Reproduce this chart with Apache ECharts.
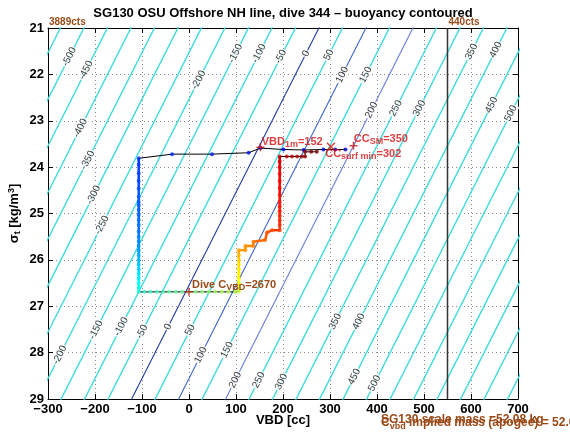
<!DOCTYPE html>
<html><head><meta charset="utf-8">
<script src="https://cdn.jsdelivr.net/npm/echarts@6/dist/echarts.min.js"></script>
<style>html,body{margin:0;padding:0;background:#fff}#c{width:570px;height:439px}</style>
</head><body><div id="c"></div>
<script>
// ================= DATA =================
const titleText = 'SG130 OSU Offshore NH line, dive 344 \u2013 buoyancy contoured';
// buoyancy contour levels [g]
const contourLevels = [-600,-550,-500,-450,-400,-350,-300,-250,-200,-150,-100,-50,0,50,100,150,200,250,300,350,400,450,500,550,600,650,700,750,800];
const blueLevels = [0, 100, 200];
// buoyancy model: B = VBD + offset + slope*(sigma - 29)
const buoyOffset = 122;
const buoySlope = 49.8;
// contour label positions (level, sigma_t where the label sits)
const topLabelLevels = [-500,-450,-400,-350,-300,-250,-200,-150,-100,-50,0,50,100,150,200,250,300,350,400,450,500];
const topLabelSigma  = [21.62,21.91,23.16,23.85,24.60,25.25,22.12,21.55,21.55,21.62,21.55,21.58,22.01,22.01,22.77,22.73,22.73,21.51,21.47,22.66,22.84];
const botLabelLevels = [-200,-150,-100,-50,0,50,100,150,200,250,300,350,400,450,500];
const botLabelSigma  = [28.05,27.51,27.44,27.55,27.44,27.51,28.05,27.94,28.59,28.59,28.63,27.33,27.33,28.52,28.66];

// dive path segments: [VBD cc, sigma_t, time fraction]
const surfaceBleed = [[333,23.62,0.08],[311,23.62,0.09],[286,23.62,0.10],[244,23.63,0.11],[201,23.62,0.12],[152,23.59,0.13],[127,23.69,0.14],[49,23.72,0.15],[-36,23.72,0.16],[-107,23.81,0.17]];
const descent = [[-107,23.81,0.17],[-107,23.95,0.18],[-107,24.13,0.19],[-107,24.30,0.195],[-107,24.46,0.20],[-107,24.64,0.21],[-107,24.75,0.213],[-107,24.82,0.216],[-107,24.92,0.22],[-107,25.03,0.225],[-107,25.14,0.23],[-107,25.25,0.235],[-107,25.39,0.24],[-107,25.50,0.25],[-107,25.60,0.26],[-107,25.70,0.27],[-107,25.80,0.28],[-107,25.90,0.29],[-107,26.00,0.305],[-107,26.10,0.32],[-107,26.20,0.335],[-107,26.30,0.35],[-107,26.40,0.36],[-107,26.50,0.375],[-107,26.60,0.39],[-107,26.69,0.41]];
const apogeePump = [[-107,26.69,0.41],[-95,26.69,0.42],[-82,26.69,0.43],[-68,26.69,0.44],[-55,26.69,0.45],[-42,26.69,0.46],[-28,26.69,0.47],[-15,26.69,0.48],[0,26.69,0.49],[14,26.69,0.50],[28,26.69,0.51],[42,26.69,0.52],[56,26.69,0.53],[70,26.69,0.54],[84,26.69,0.55],[98,26.69,0.56],[106,26.68,0.57]];
const climbBottom = [[106,26.68,0.57],[106,26.60,0.59],[106,26.50,0.61],[106,26.40,0.62],[106,26.30,0.63],[106,26.20,0.64],[106,26.10,0.65],[106,26.00,0.67],[106,25.90,0.69],[106,25.79,0.71]];
const staircase = [[106,25.79,0.71],[120,25.79,0.72],[120,25.70,0.73],[137,25.70,0.74],[137,25.61,0.75],[162,25.57,0.77],[166,25.41,0.79],[177,25.36,0.80],[193,25.36,0.82]];
const climbTop = [[193,25.36,0.82],[193,25.25,0.83],[193,25.15,0.835],[193,25.05,0.84],[193,24.95,0.845],[193,24.85,0.85],[193,24.75,0.855],[193,24.60,0.86],[193,24.45,0.87],[193,24.30,0.88],[193,24.15,0.89],[193,24.00,0.90],[193,23.88,0.91],[193,23.77,0.92]];
const surfacePump = [[193,23.77,0.92],[208,23.77,0.93],[219,23.77,0.94],[230,23.77,0.95],[240,23.77,0.96],[247,23.77,0.97],[247,23.67,0.98],[260,23.67,0.99],[272,23.67,1.0]];

// annotated markers
const vbd1m = [152, 23.57];      // VBD_1m = 152
const ccSM = [350, 23.54];       // CC_SM = 350
const ccSurfMin = [302, 23.56];  // CC_surf min = 302
const diveCvbd = [0, 26.69];     // Dive C_VBD = 2670
const vbdLimit = 550;            // vertical line (440 cts)
const countsLeft = [-300, 21, '3889cts'];
const countsRight = [550, 21, '440cts'];
const massScale = 'SG130 scale mass =52.08 kg';
const massImplied = ' implied mass (apogee) = 52.086';

// ================= CHART =================
const FONT = "'Liberation Sans', Arial, Helvetica, sans-serif";
const RED = '#d01010';
const BROWN = '#9a4a18';
function jet(t){
  const c = v => Math.max(0, Math.min(1, v));
  const r = c(1.5 - Math.abs(4*t - 3)), g = c(1.5 - Math.abs(4*t - 2)), b = c(1.5 - Math.abs(4*t - 1));
  return 'rgb(' + Math.round(r*255) + ',' + Math.round(g*255) + ',' + Math.round(b*255) + ')';
}
const contourVbd = (L, s) => L - buoyOffset - buoySlope*(s - 29);
const blueColors = {0:'#1f3c9e', 100:'#3e66c9', 200:'#6a7bdc'};

const series = [];
contourLevels.forEach(L => {
  const blue = blueLevels.includes(L);
  series.push({type:'line', silent:true, symbol:'none', clip:true, z:2,
    data:[[contourVbd(L,20.5),20.5],[contourVbd(L,29.5),29.5]],
    lineStyle:{color: blue ? blueColors[L] : '#3edcdc', width: blue ? 1.1 : 1.4}});
});
const labelData = [];
topLabelLevels.forEach((L,i)=>labelData.push([contourVbd(L, topLabelSigma[i]), topLabelSigma[i], L]));
botLabelLevels.forEach((L,i)=>labelData.push([contourVbd(L, botLabelSigma[i]), botLabelSigma[i], L]));
series.push({type:'scatter', silent:true, z:3, symbolSize:1, itemStyle:{color:'rgba(0,0,0,0)'}, data:labelData,
  label:{show:true, position:'inside', rotate:63, formatter:p=>String(p.data[2]), color:'#000', fontSize:10, fontFamily:FONT,
    backgroundColor:'#fff', padding:[0,1]}});
// vertical VBD limit line
series.push({type:'line', silent:true, symbol:'none', z:4, data:[[vbdLimit,21],[vbdLimit,29]], lineStyle:{color:'#333', width:1.5}});

const segments = [surfaceBleed, descent, apogeePump, climbBottom, staircase, climbTop, surfacePump];
const coloredSegs = [descent, climbBottom, staircase, climbTop];
const allPts = [];
segments.forEach((seg, k) => seg.forEach((p, j) => { if (k === 0 || j > 0) allPts.push(p); }));
// black path line (underneath)
series.push({type:'line', silent:true, symbol:'none', z:5, data:allPts.map(p=>[p[0],p[1]]), lineStyle:{color:'#000', width:1}});
// colored thick segments
const segData = [];
coloredSegs.forEach(seg => { for (let i = 0; i < seg.length - 1; i++) segData.push([seg[i][0], seg[i][1], seg[i+1][2], seg[i+1][0], seg[i+1][1]]); });
series.push({type:'custom', silent:true, z:6, data:segData, encode:{x:[0,3], y:[1,4]},
  renderItem:(params, api) => {
    const a = api.coord([api.value(0), api.value(1)]), b = api.coord([api.value(3), api.value(4)]);
    return {type:'line', shape:{x1:a[0], y1:a[1], x2:b[0], y2:b[1]}, style:{stroke: jet(api.value(2)), lineWidth:2.5}};
  }});
// colored dots
series.push({type:'scatter', silent:true, z:7, symbolSize:4, data:allPts.map(p=>({value:[p[0],p[1]], itemStyle:{color:jet(p[2])}}))});

// markers
const plus = 'path://M5,0L5,10M0,5L10,5';
const cross = 'path://M0,0L10,10M0,10L10,0';
function richFor(color){
  return {
    m:{fontSize:11, fontWeight:'bold', color, fontFamily:FONT, lineHeight:13, verticalAlign:'top'},
    s:{fontSize:9, fontWeight:'bold', color, fontFamily:FONT, lineHeight:10, padding:[7,0,0,0], verticalAlign:'bottom'}
  };
}
function markerSeries(pt, sym, color, text, pos){
  return {type:'scatter', silent:true, z:8, symbol:sym, symbolSize:8, data:[pt],
    itemStyle:{color:'rgba(0,0,0,0)', borderColor:color, borderWidth:1.5},
    label:{show:!!text, position:pos, formatter:text, rich:richFor(color)}};
}
series.push(markerSeries(vbd1m, plus, RED, '{m|VBD}{s|1m}{m|=152}', [6,-6]));
series.push(markerSeries(ccSM, plus, RED, '{m|CC}{s|SM}{m|=350}', [5,-8]));
series.push(markerSeries(ccSurfMin, cross, RED, '{m|CC}{s|surf min}{m|=302}', [-1,6]));
series.push(markerSeries(diveCvbd, plus, '#c02020', '', 'right'));

const axisLbl = {color:'#000', fontWeight:'bold', fontSize:13, fontFamily:FONT};
const gridLine = {show:true, lineStyle:{type:[1,3], color:'#8a8a8a', width:1}};
const option = {
  animation:false,
  backgroundColor:'#fff',
  grid:{left:48, right:52, top:28, bottom:40, containLabel:false, outerBoundsMode:'none'},
  xAxis:[
    {type:'value', min:-300, max:700, interval:100, position:'bottom',
     axisLine:{show:true, onZero:false, lineStyle:{color:'#000'}}, axisTick:{show:true, inside:true, length:5, lineStyle:{color:'#000'}},
     axisLabel:Object.assign({margin:4, formatter:v=>String(v).replace('-','\u2212')}, axisLbl), splitLine:gridLine,
     name:'VBD [cc]', nameLocation:'middle', nameGap:15, nameMoveOverlap:false, nameTextStyle:Object.assign({}, axisLbl)},
    {type:'value', min:-300, max:700, interval:100, position:'top',
     axisLine:{show:true, onZero:false, lineStyle:{color:'#000'}}, axisTick:{show:true, inside:true, length:5, lineStyle:{color:'#000'}},
     axisLabel:{show:false}, splitLine:{show:false}}
  ],
  yAxis:[
    {type:'value', min:21, max:29, interval:1, inverse:true, position:'left',
     axisLine:{show:true, onZero:false, lineStyle:{color:'#000'}}, axisTick:{show:true, inside:true, length:5, lineStyle:{color:'#000'}},
     axisLabel:Object.assign({margin:4}, axisLbl), splitLine:gridLine,
     name:'{m|\u03c3}{s|t}{m| [kg/m}{p|3}{m|]}', nameLocation:'middle', nameGap:26, nameRotate:90, nameMoveOverlap:false,
     nameTextStyle:{rich:{
       m:{fontSize:13, fontWeight:'bold', color:'#000', fontFamily:FONT, lineHeight:15, verticalAlign:'middle'},
       s:{fontSize:9, fontWeight:'bold', color:'#000', fontFamily:FONT, lineHeight:10, padding:[9,0,0,0], verticalAlign:'bottom'},
       p:{fontSize:9, fontWeight:'bold', color:'#000', fontFamily:FONT, lineHeight:10, padding:[0,0,9,0], verticalAlign:'top'}}}},
    {type:'value', min:21, max:29, interval:1, inverse:true, position:'right',
     axisLine:{show:true, onZero:false, lineStyle:{color:'#000'}}, axisTick:{show:true, inside:true, length:5, lineStyle:{color:'#000'}},
     axisLabel:{show:false}, splitLine:{show:false}}
  ],
  graphic:[
    {type:'text', x:283, y:13, style:{text:titleText, textAlign:'center', textVerticalAlign:'middle', font:'bold 13px ' + FONT, fill:'#000'}},
    {type:'text', x:381, y:420, style:{text:massScale, textAlign:'left', textVerticalAlign:'middle', font:'bold 12px ' + FONT, fill:BROWN}},
    {type:'text', x:381, y:424, style:{text:'{m|C}{s|vbd}{m|' + massImplied + '}', textAlign:'left', textVerticalAlign:'middle',
      rich:{m:{font:'bold 12px ' + FONT, fill:BROWN, lineHeight:14, verticalAlign:'top'},
            s:{font:'bold 9px ' + FONT, fill:BROWN, lineHeight:10, padding:[7,0,0,0], verticalAlign:'bottom'}}}}
  ],
  series: series
};
const chart = echarts.init(document.getElementById('c'), null, {renderer:'canvas'});
chart.setOption(option);
// texts anchored to data coordinates through the axes
const px = p => chart.convertToPixel({xAxisIndex:0, yAxisIndex:0}, p);
const extra = [];
[countsLeft, countsRight].forEach(c => {
  const q = px([c[0], c[1]]);
  extra.push({type:'text', x:q[0] + 1, y:q[1] - 1, z:100, style:{text:c[2], textAlign:'left', textVerticalAlign:'bottom', font:'bold 10px ' + FONT, fill:BROWN}});
});
const dq = px(diveCvbd);
extra.push({type:'text', x:dq[0] + 3, y:dq[1] - 6, z:100, style:{text:'{m|Dive C}{s|VBD}{m|=2670}', textAlign:'left', textVerticalAlign:'middle', rich:{
  m:{font:'bold 11px ' + FONT, fill:BROWN, lineHeight:13, verticalAlign:'top'},
  s:{font:'bold 9px ' + FONT, fill:BROWN, lineHeight:10, padding:[7,0,0,0], verticalAlign:'bottom'}}}});
chart.setOption({graphic: option.graphic.concat(extra)});
</script></body></html>
